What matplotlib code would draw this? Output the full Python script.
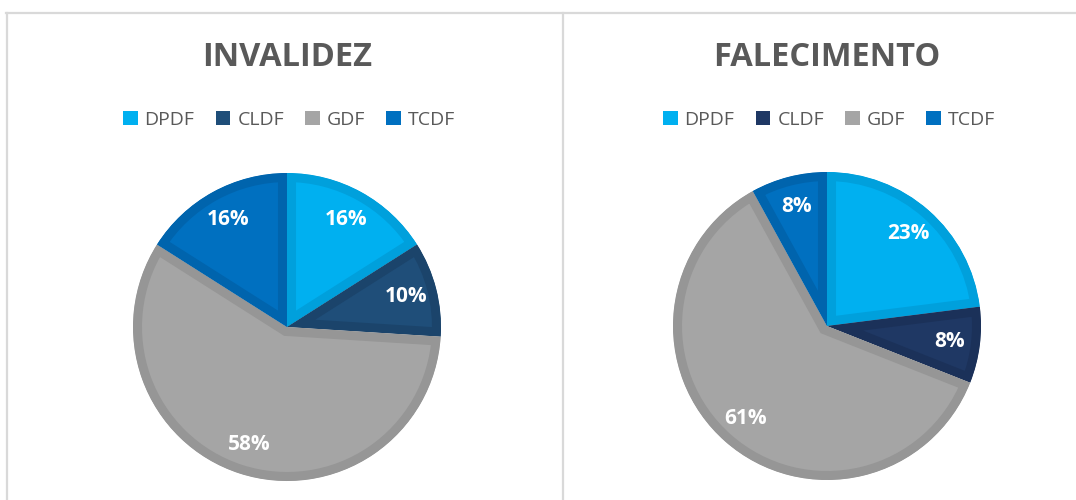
import matplotlib
matplotlib.use("Agg")
import matplotlib.pyplot as plt
from matplotlib.patches import Patch
from matplotlib.lines import Line2D

plt.rcParams["font.family"] = ["Open Sans", "DejaVu Sans"]

categorias = ["DPDF", "CLDF", "GDF", "TCDF"]
invalidez = [16, 10, 58, 16]
falecimento = [23, 8, 61, 8]
titulos = ["INVALIDEZ", "FALECIMENTO"]

# colori riempimento / bordo interno
cores_inv = ["#00B0F0", "#1F4E79", "#A5A5A5", "#0070C0"]
bordas_inv = ["#00A0DC", "#1B446B", "#969696", "#0064AD"]
cores_fal = ["#00B0F0", "#1F3864", "#A5A5A5", "#0070C0"]
bordas_fal = ["#00A0DC", "#1B3159", "#969696", "#0064AD"]

W, H = 1076, 500
fig = plt.figure(figsize=(W / 100, H / 100), dpi=100)
fig.patch.set_facecolor("white")

grigio = "#595959"
LIM = 1.1


def px_axes(cx, cy, r):
    # asse quadrato centrato in (cx, cy) pixel, raggio r pixel -> 1 unità
    half = r * LIM
    ax = fig.add_axes([(cx - half) / W, (H - cy - half) / H, 2 * half / W, 2 * half / H])
    return ax


def disegna_torta(ax, valori, cores, bordas):
    wedges, _, autotexts = ax.pie(
        valori, colors=cores, startangle=90, counterclock=False,
        radius=1, autopct="%d%%", pctdistance=0.8,
        textprops=dict(color="white", fontsize=15, fontweight="bold"))
    for w, b in zip(wedges, bordas):
        w.set_edgecolor(b)
        w.set_linewidth(13)
        # pie() mette clip_on=False: lo riattivo e taglio il bordo sulla fetta stessa
        w.set_clip_on(True)
        w.set_clip_path(w)
    # pie() reimposta i limiti, quindi li rimetto dopo
    ax.set_xlim(-LIM, LIM)
    ax.set_ylim(-LIM, LIM)
    ax.set_aspect("equal")
    ax.axis("off")
    return wedges


centri = [(287, 327), (827, 326)]
for (cx, cy), valori, cores, bordas, titolo in zip(
        centri, [invalidez, falecimento], [cores_inv, cores_fal],
        [bordas_inv, bordas_fal], titulos):
    ax = px_axes(cx, cy, 154)
    disegna_torta(ax, valori, cores, bordas)
    fig.text(cx / W, 1 - 57 / H, titolo, ha="center", va="center",
             fontsize=23.5, fontweight="bold", color=grigio)
    handles = [Patch(facecolor=c, edgecolor="none") for c in cores]
    fig.legend(handles, categorias, loc="center", ncol=4, frameon=False,
               bbox_to_anchor=(cx / W + 0.002, 1 - 120 / H),
               handlelength=0.75, handleheight=0.75, handletextpad=0.35,
               columnspacing=1.1, fontsize=14, labelcolor=grigio)

# cornice del grafico
bordo = "#D9D9D9"
fig.add_artist(Line2D([6 / W, 1], [1 - 13 / H, 1 - 13 / H], color=bordo, lw=1.6, transform=fig.transFigure))
fig.add_artist(Line2D([7 / W, 7 / W], [0, 1 - 13 / H], color=bordo, lw=1.6, transform=fig.transFigure))
fig.add_artist(Line2D([563 / W, 563 / W], [0, 1 - 13 / H], color=bordo, lw=1.6, transform=fig.transFigure))

fig.savefig("out.png", dpi=100, facecolor="white")
